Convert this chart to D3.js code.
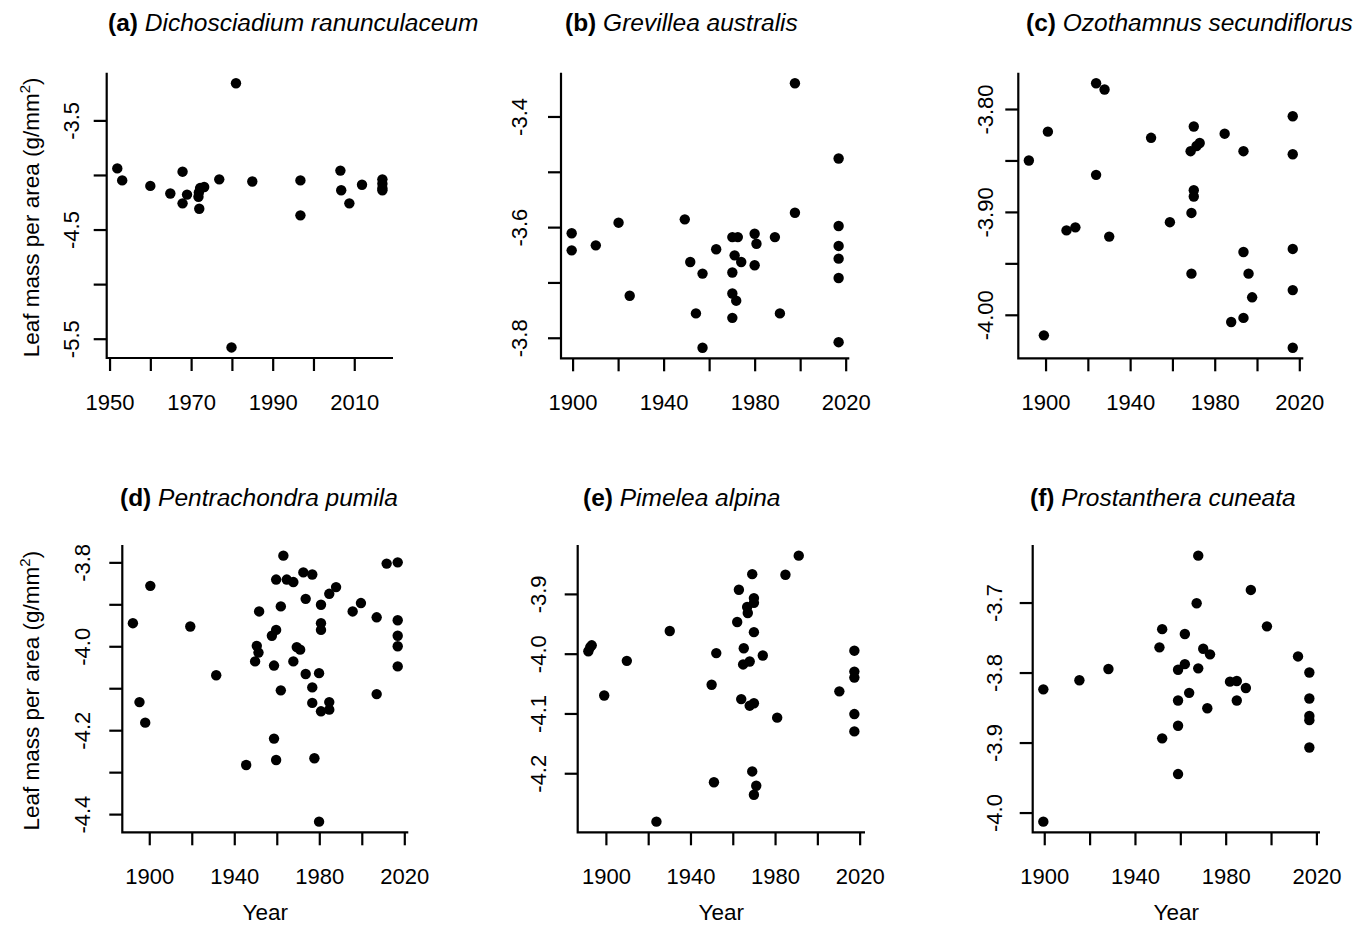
<!DOCTYPE html>
<html>
<head>
<meta charset="utf-8">
<script src="https://cdn.jsdelivr.net/npm/d3@7"></script>
<style>
  body { margin: 0; background: #fff; }
  svg { display: block; font-family: "Liberation Sans", Arial, Helvetica, sans-serif; }
</style>
</head>
<body>
<svg id="chart" width="1355" height="925"></svg>
<script>
(function () {
  'use strict';

  // panel titles
  var panelCodes = ['(a)', '(b)', '(c)', '(d)', '(e)', '(f)'];
  var speciesNames = [
    'Dichosciadium ranunculaceum',
    'Grevillea australis',
    'Ozothamnus secundiflorus',
    'Pentrachondra pumila',
    'Pimelea alpina',
    'Prostanthera cuneata'
  ];

  // (a) Dichosciadium ranunculaceum
  var yearsA = [1951.9, 1953.1, 1960, 1964.9, 1967.9, 1967.9, 1969, 1971.8, 1972, 1972.2, 1973.2, 1971.9,
    1976.9, 1981, 1979.9, 1985, 1996.8, 1996.8, 2006.6, 2006.8, 2008.8, 2011.9, 2016.9, 2016.9, 2016.9, 2016.9];
  var lmaA = [-3.94, -4.05, -4.10, -4.17, -3.97, -4.26, -4.18, -4.20, -4.31, -4.12, -4.11, -4.16,
    -4.04, -3.16, -5.58, -4.06, -4.05, -4.37, -3.96, -4.14, -4.26, -4.09, -4.04, -4.08, -4.12, -4.14];

  // (b) Grevillea australis
  var yearsB = [1899.6, 1899.6, 1910.2, 1920.2, 1925.1, 1949.3, 1951.7, 1954.2, 1957.1, 1957.1, 1963.1,
    1970.2, 1972.6, 1971.2, 1974.1, 1970.2, 1970.2, 1971.9, 1970.2, 1980, 1980.8, 1980, 1988.9, 1991.1,
    1997.7, 1997.7, 2016.9, 2016.9, 2016.9, 2016.9, 2016.9, 2016.9];
  var lmaB = [-3.611, -3.642, -3.633, -3.592, -3.724, -3.586, -3.663, -3.756, -3.684, -3.818, -3.640,
    -3.618, -3.618, -3.651, -3.663, -3.682, -3.720, -3.733, -3.764, -3.612, -3.630, -3.669, -3.618, -3.756,
    -3.340, -3.574, -3.476, -3.598, -3.634, -3.657, -3.692, -3.808];

  // (c) Ozothamnus secundiflorus
  var yearsC = [1892.1, 1901.1, 1899.2, 1909.9, 1914.1, 1923.9, 1927.9, 1923.9, 1930.1, 1949.9, 1958.8,
    1970.1, 1968.6, 1971.4, 1972.9, 1970.1, 1970.1, 1969.0, 1969.0, 1984.7, 1993.6, 1993.6, 1996, 1997.7,
    1987.8, 1993.6, 2016.9, 2016.9, 2016.9, 2016.9, 2016.9];
  var lmaC = [-3.850, -3.822, -4.020, -3.918, -3.915, -3.775, -3.781, -3.864, -3.924, -3.828, -3.910,
    -3.817, -3.841, -3.836, -3.833, -3.879, -3.885, -3.901, -3.960, -3.824, -3.841, -3.939, -3.960, -3.983,
    -4.007, -4.003, -3.807, -3.844, -3.936, -3.976, -4.032];

  // (d) Pentrachondra pumila
  var yearsD = [1892.3, 1895.4, 1898.1, 1900.5, 1919.3, 1931.5, 1945.6, 1949.8, 1950.6, 1951.4, 1951.7,
    1957.7, 1958.7, 1958.7, 1959.7, 1959.7, 1959.7, 1961.9, 1961.9, 1963.1, 1964.7, 1967.8, 1967.8, 1969.4,
    1971, 1972.5, 1973.6, 1973.6, 1976.7, 1976.7, 1976.7, 1977.7, 1979.9, 1979.9, 1980.8, 1980.8, 1980.8,
    1980.8, 1984.7, 1984.7, 1984.7, 1987.9, 1995.7, 1999.6, 2007.0, 2007.0, 2011.7, 2016.9, 2016.9, 2016.9,
    2016.9, 2016.9];
  var lmaD = [-3.945, -4.133, -4.182, -3.856, -3.953, -4.069, -4.283, -4.036, -3.999, -4.015, -3.917,
    -3.975, -4.046, -4.220, -4.271, -3.841, -3.961, -3.905, -4.105, -3.784, -3.841, -3.847, -4.036, -4.002,
    -4.008, -3.824, -3.887, -4.066, -3.829, -4.098, -4.135, -4.267, -4.064, -4.418, -3.901, -3.945, -3.961,
    -4.155, -3.875, -4.133, -4.151, -3.859, -3.917, -3.897, -3.931, -4.114, -3.803, -3.800, -3.938, -3.975,
    -4.000, -4.048];

  // (e) Pimelea alpina
  var yearsE = [1891.7, 1892.6, 1893.3, 1899.2, 1909.9, 1923.9, 1930.2, 1950, 1952.2, 1951.1, 1962.1,
    1962.9, 1964, 1964.9, 1965.2, 1966.8, 1967.1, 1968, 1968, 1969.2, 1969.2, 1970, 1970, 1970, 1970,
    1971.1, 1970, 1974.2, 1981, 1984.9, 1991.2, 2010.4, 2017.5, 2017.5, 2017.5, 2017.5, 2017.5];
  var lmaE = [-3.996, -3.989, -3.986, -4.070, -4.012, -4.281, -3.962, -4.052, -3.999, -4.215, -3.947,
    -3.893, -4.076, -4.018, -3.991, -3.922, -3.932, -4.013, -4.087, -3.867, -4.197, -3.907, -3.915, -3.964,
    -4.083, -4.221, -4.236, -4.003, -4.107, -3.868, -3.836, -4.063, -3.995, -4.030, -4.040, -4.101, -4.130];

  // (f) Prostanthera cuneata
  var yearsF = [1899.6, 1899.6, 1915.5, 1928.3, 1950.8, 1952, 1952, 1959, 1959, 1959, 1959, 1962, 1962,
    1963.9, 1967.2, 1967.9, 1967.9, 1970.1, 1973.1, 1971.9, 1981.9, 1984.9, 1984.9, 1988.9, 1991.1, 1998.2,
    2011.9, 2016.9, 2016.9, 2016.9, 2016.9, 2016.9];
  var lmaF = [-3.824, -4.013, -3.811, -3.795, -3.764, -3.738, -3.894, -3.796, -3.840, -3.876, -3.945,
    -3.745, -3.788, -3.829, -3.701, -3.633, -3.794, -3.766, -3.774, -3.851, -3.813, -3.812, -3.840, -3.822,
    -3.682, -3.734, -3.777, -3.800, -3.837, -3.862, -3.868, -3.907];

  // axis ticks (all ticks, then which ones carry a label)
  var xTicksA = [1950, 1960, 1970, 1980, 1990, 2000, 2010];
  var xLabelsA = [1950, 1970, 1990, 2010];
  var xTicksLong = [1900, 1920, 1940, 1960, 1980, 2000, 2020];
  var xLabelsLong = [1900, 1940, 1980, 2020];

  var yTicksA = [-3.5, -4.0, -4.5, -5.0, -5.5];
  var yLabelsA = [-3.5, -4.5, -5.5];
  var yTicksB = [-3.4, -3.5, -3.6, -3.7, -3.8];
  var yLabelsB = [-3.4, -3.6, -3.8];
  var yTicksC = [-3.80, -3.85, -3.90, -3.95, -4.00];
  var yLabelsC = [-3.80, -3.90, -4.00];
  var yTicksD = [-3.8, -3.9, -4.0, -4.1, -4.2, -4.3, -4.4];
  var yLabelsD = [-3.8, -4.0, -4.2, -4.4];
  var yTicksE = [-3.9, -4.0, -4.1, -4.2];
  var yLabelsE = [-3.9, -4.0, -4.1, -4.2];
  var yTicksF = [-3.7, -3.8, -3.9, -4.0];
  var yLabelsF = [-3.7, -3.8, -3.9, -4.0];

  var yAxisTitle = 'Leaf mass per area (g/mm';
  var xAxisTitle = 'Year';

  // layout: box = [left, right, top, bottom] of the plot region
  var panels = [
    { years: yearsA, lma: lmaA, xTicks: xTicksA, xLabels: xLabelsA, yTicks: yTicksA, yLabels: yLabelsA,
      digits: 1, box: [106.7, 393, 72.7, 358], titleX: 108, labelGap: 28, yTitle: true, xTitle: false },
    { years: yearsB, lma: lmaB, xTicks: xTicksLong, xLabels: xLabelsLong, yTicks: yTicksB, yLabels: yLabelsB,
      digits: 1, box: [561, 849.3, 72.7, 358.3], titleX: 565, labelGap: 34, yTitle: false, xTitle: false },
    { years: yearsC, lma: lmaC, xTicks: xTicksLong, xLabels: xLabelsLong, yTicks: yTicksC, yLabels: yLabelsC,
      digits: 2, box: [1018.3, 1303.3, 72.7, 358.3], titleX: 1026, labelGap: 25, yTitle: false, xTitle: false },
    { years: yearsD, lma: lmaD, xTicks: xTicksLong, xLabels: xLabelsLong, yTicks: yTicksD, yLabels: yLabelsD,
      digits: 1, box: [122.3, 408.3, 545, 832.3], titleX: 120, labelGap: 32, yTitle: true, xTitle: true },
    { years: yearsE, lma: lmaE, xTicks: xTicksLong, xLabels: xLabelsLong, yTicks: yTicksE, yLabels: yLabelsE,
      digits: 1, box: [577.7, 865, 545, 832.3], titleX: 583, labelGap: 32, yTitle: false, xTitle: true },
    { years: yearsF, lma: lmaF, xTicks: xTicksLong, xLabels: xLabelsLong, yTicks: yTicksF, yLabels: yLabelsF,
      digits: 1, box: [1032.7, 1320, 545, 832.3], titleX: 1030, labelGap: 31, yTitle: false, xTitle: true }
  ];

  var svg = d3.select('#chart');
  var lineWidth = 2.2;

  // R style axis range: data range stretched by 4% on each side
  function padded(values) {
    var ext = d3.extent(values);
    var d = (ext[1] - ext[0]) * 0.04;
    return [ext[0] - d, ext[1] + d];
  }

  function hasLabel(list, v) {
    return list.some(function (l) { return Math.abs(l - v) < 1e-9; });
  }

  function styleAxis(sel) {
    sel.attr('font-family', null).attr('font-size', null);
    sel.select('.domain').remove();
    sel.selectAll('.tick line').attr('stroke', '#000').attr('stroke-width', lineWidth);
    sel.selectAll('.tick text').attr('fill', '#000').style('font-size', '22px');
  }

  panels.forEach(function (p, idx) {
    var left = p.box[0], right = p.box[1], top = p.box[2], bottom = p.box[3];
    var x = d3.scaleLinear().domain(padded(p.years)).range([left, right]);
    var y = d3.scaleLinear().domain(padded(p.lma)).range([bottom, top]);
    var g = svg.append('g').attr('class', 'panel');

    // bty = "l"
    g.append('path')
      .attr('d', 'M' + left + ',' + top + 'V' + bottom + 'H' + right)
      .attr('fill', 'none')
      .attr('stroke', '#000')
      .attr('stroke-width', lineWidth);

    var xAxis = d3.axisBottom(x)
      .tickValues(p.xTicks)
      .tickSize(13)
      .tickSizeOuter(0)
      .tickFormat(function (d) { return hasLabel(p.xLabels, d) ? String(d) : ''; });
    g.append('g')
      .attr('transform', 'translate(0,' + bottom + ')')
      .call(xAxis)
      .call(styleAxis)
      .selectAll('.tick text')
      .attr('y', 51.5)
      .attr('dy', null);

    var yAxis = d3.axisLeft(y)
      .tickValues(p.yTicks)
      .tickSize(13)
      .tickSizeOuter(0)
      .tickFormat(function (d) { return hasLabel(p.yLabels, d) ? d.toFixed(p.digits) : ''; });
    g.append('g')
      .attr('transform', 'translate(' + left + ',0)')
      .call(yAxis)
      .call(styleAxis)
      .selectAll('.tick text')
      .attr('x', null)
      .attr('dy', null)
      .attr('text-anchor', 'middle')
      .attr('transform', 'translate(' + (-p.labelGap) + ',0) rotate(-90)');

    // points
    g.selectAll('circle.pt')
      .data(d3.range(p.years.length))
      .join('circle')
      .attr('class', 'pt')
      .attr('cx', function (i) { return x(p.years[i]); })
      .attr('cy', function (i) { return y(p.lma[i]); })
      .attr('r', 5.2)
      .attr('fill', '#000');

    // title, left aligned near the y axis like the original
    var title = g.append('text')
      .attr('x', p.titleX)
      .attr('y', top < 300 ? 31 : 505.5)
      .style('font-size', '24.5px')
      .attr('fill', '#000');
    title.append('tspan').attr('font-weight', 'bold').text(panelCodes[idx] + ' ');
    title.append('tspan').attr('font-style', 'italic').text(speciesNames[idx]);

    if (p.yTitle) {
      var yt = g.append('text')
        .attr('transform', 'translate(39,' + ((top + bottom) / 2 + 2) + ') rotate(-90)')
        .attr('text-anchor', 'middle')
        .style('font-size', '22.5px')
        .attr('fill', '#000');
      yt.append('tspan').text(yAxisTitle);
      yt.append('tspan').attr('dy', -9).style('font-size', '15px').text('2');
      yt.append('tspan').attr('dy', 9).text(')');
    }

    if (p.xTitle) {
      g.append('text')
        .attr('x', (left + right) / 2)
        .attr('y', 919.5)
        .attr('text-anchor', 'middle')
        .style('font-size', '22.5px')
        .attr('fill', '#000')
        .text(xAxisTitle);
    }
  });
}());
</script>
</body>
</html>
